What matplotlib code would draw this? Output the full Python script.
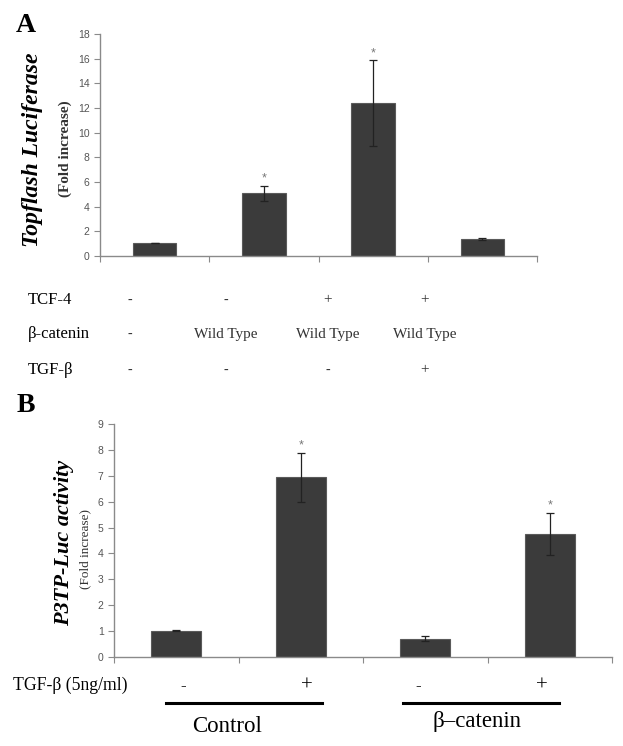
import matplotlib
matplotlib.use("Agg")
import matplotlib.pyplot as plt
import numpy as np

# ---- data ----
a_values = [1.05, 5.1, 12.4, 1.35]
a_errors = [0.0, 0.6, 3.5, 0.07]
a_star = [False, True, True, False]
a_yticks = [0, 2, 4, 6, 8, 10, 12, 14, 16, 18]
a_rows = ["TCF-4", "β-catenin", "TGF-β"]
a_table = [["-", "-", "+", "+"],
           ["-", "Wild Type", "Wild Type", "Wild Type"],
           ["-", "-", "-", "+"]]

b_values = [1.0, 6.95, 0.7, 4.75]
b_errors = [0.02, 0.95, 0.1, 0.83]
b_star = [False, True, False, True]
b_yticks = [0, 1, 2, 3, 4, 5, 6, 7, 8, 9]
b_signs = ["-", "+", "-", "+"]
b_groups = ["Control", "β–catenin"]

W, H = 623, 746
fig = plt.figure(figsize=(W / 100, H / 100), dpi=100)
SERIF = "Liberation Serif"
SANS = "Liberation Sans"
BAR = "#3b3b3b"
AX = "#8a8a8a"
TXT = "#555555"

def fx(x):
    return x / W

def fy(y):
    return 1 - y / H

def style_axes(ax, n, ymax, yticks):
    ax.set_xlim(0, n)
    ax.set_ylim(0, ymax)
    for s in ["top", "right"]:
        ax.spines[s].set_visible(False)
    for s in ["left", "bottom"]:
        ax.spines[s].set_color(AX)
        ax.spines[s].set_linewidth(1.0)
    ax.set_yticks(yticks)
    ax.set_yticklabels([str(t) for t in yticks], fontsize=7.5, color=TXT, family=SANS)
    ax.set_xticks(np.arange(0, n + 1))
    ax.set_xticklabels([])
    ax.tick_params(axis="both", direction="out", length=4, color=AX, width=0.8)
    ax.tick_params(axis="y", pad=3.5)

def bars(ax, values, errors, stars, ymax):
    x = np.arange(len(values)) + 0.5
    ax.bar(x, values, width=0.4, color=BAR, edgecolor="#5a5a5a", linewidth=0.8, zorder=2)
    ax.errorbar(x, values, yerr=errors, fmt="none", ecolor="#222222", elinewidth=0.9,
                capsize=3, capthick=0.9, zorder=3)
    for xi, v, e, s in zip(x, values, errors, stars):
        if s:
            ax.text(xi, v + e + ymax * 0.004, "*", ha="center", va="bottom",
                    fontsize=9, color="#777777", family=SANS)

# ---- Panel A ----
axA = fig.add_axes([fx(100), fy(256), fx(537) - fx(100), fy(34) - fy(256)])
style_axes(axA, 4, 18, a_yticks)
bars(axA, a_values, a_errors, a_star, 18)

fig.text(fx(26), fy(26), "A", fontsize=20, fontweight="bold", family=SERIF,
         ha="center", va="center")
fig.text(fx(33), fy(150), "Topflash Luciferase", rotation=90, fontsize=17,
         fontweight="bold", style="italic", family=SERIF, ha="center", va="center")
fig.text(fx(65), fy(149), "(Fold increase)", rotation=90, fontsize=11,
         fontweight="bold", family=SERIF, ha="center", va="center", color="#333333")

row_y = [300, 334, 370]
col_x = [130, 226, 328, 425]
for r, (lab, yy) in enumerate(zip(a_rows, row_y)):
    fig.text(fx(28), fy(yy), lab, fontsize=12, family=SERIF, ha="left", va="center")
    for c, xx in enumerate(col_x):
        fig.text(fx(xx), fy(yy), a_table[r][c], fontsize=11 if a_table[r][c] != "-" else 10,
                 family=SERIF, ha="center", va="center", color="#333333")

# ---- Panel B ----
axB = fig.add_axes([fx(114), fy(656.7), fx(612) - fx(114), fy(424.3) - fy(656.7)])
style_axes(axB, 4, 9, b_yticks)
bars(axB, b_values, b_errors, b_star, 9)

fig.text(fx(26), fy(405), "B", fontsize=20, fontweight="bold", family=SERIF,
         ha="center", va="center")
fig.text(fx(64), fy(543), "P3TP-Luc activity", rotation=90, fontsize=16,
         fontweight="bold", style="italic", family=SERIF, ha="center", va="center")
fig.text(fx(85), fy(549), "(Fold increase)", rotation=90, fontsize=9.5,
         family=SERIF, ha="center", va="center", color="#333333")

fig.text(fx(13), fy(685), "TGF-β (5ng/ml)", fontsize=12.7, family=SERIF, ha="left", va="center")
sign_x = [183, 307, 418, 542]
for s, xx in zip(b_signs, sign_x):
    fig.text(fx(xx), fy(686), s, fontsize=15 if s == "+" else 12, family=SERIF,
             ha="center", va="center")

lines = [(166, 322), (403, 559)]
for (x0, x1) in lines:
    fig.add_artist(plt.Line2D([fx(x0), fx(x1)], [fy(703), fy(703)], color="black", lw=2.2))
fig.text(fx(227), fy(727), b_groups[0], fontsize=16.5, family=SERIF, ha="center", va="center")
fig.text(fx(477), fy(722), b_groups[1], fontsize=16.5, family=SERIF, ha="center", va="center")

fig.savefig("out.png", dpi=100)
